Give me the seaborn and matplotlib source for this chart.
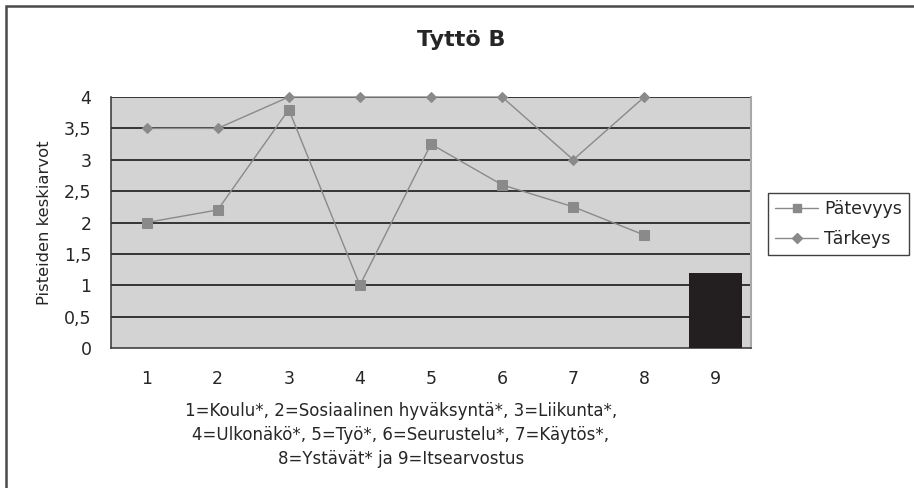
import numpy as np
import pandas as pd
import seaborn as sns
import matplotlib
matplotlib.use("Agg")
import matplotlib.pyplot as plt
from matplotlib.patches import Rectangle
from matplotlib.lines import Line2D

# ---- data ----
categories = ["1", "2", "3", "4", "5", "6", "7", "8", "9"]
patevyys = [2.0, 2.2, 3.8, 1.0, 3.25, 2.6, 2.25, 1.8]
tarkeys = [3.5, 3.5, 4.0, 4.0, 4.0, 4.0, 3.0, 4.0]
itsearvostus_cat = ["9"]
itsearvostus = [1.2]
yticks = [0, 0.5, 1, 1.5, 2, 2.5, 3, 3.5, 4]
ytick_labels = ["0", "0,5", "1", "1,5", "2", "2,5", "3", "3,5", "4"]
title = "Tyttö B"
ylabel = "Pisteiden keskiarvot"
caption = ("1=Koulu*, 2=Sosiaalinen hyväksyntä*, 3=Liikunta*,\n"
           "4=Ulkonäkö*, 5=Työ*, 6=Seurustelu*, 7=Käytös*,\n"
           "8=Ystävät* ja 9=Itsearvostus")

sns.set_style("white")
plt.rcParams["font.family"] = ["DejaVu Sans"]

W, H = 914, 488
fig = plt.figure(figsize=(W / 100, H / 100), dpi=100)
ax = fig.add_axes([111 / W, 1 - 348 / H, (751 - 111) / W, (348 - 97) / H])
ax.set_facecolor("#d3d3d3")

# bar for category 9
sns.barplot(x=itsearvostus_cat, y=itsearvostus, order=categories,
            color="#231f20", width=0.75, saturation=1, ax=ax, zorder=3,
            edgecolor="#231f20", linewidth=0)

line_col = "#8a8a8a"
sns.lineplot(x=np.arange(len(patevyys)), y=patevyys, ax=ax, color=line_col, lw=1.0,
             marker="s", markersize=7, markeredgecolor=line_col,
             markerfacecolor=line_col, zorder=4, clip_on=False)
sns.lineplot(x=np.arange(len(tarkeys)), y=tarkeys, ax=ax, color=line_col, lw=1.0,
             marker="D", markersize=5.5, markeredgecolor=line_col,
             markerfacecolor=line_col, zorder=4, clip_on=False)

ax.set_xlim(-0.5, len(categories) - 0.5)
ax.set_ylim(0, 4)
ax.set_yticks(yticks)
ax.set_yticklabels(ytick_labels, fontsize=12.5)
ax.set_xticks(np.arange(len(categories)))
ax.set_xticklabels(categories, fontsize=12.5)
ax.set_xticks(np.arange(len(categories) + 1) - 0.5, minor=True)
ax.tick_params(axis="x", which="major", length=0, pad=16)
ax.tick_params(axis="x", which="minor", length=6, width=1, color="#333333", direction="out")
ax.tick_params(axis="y", which="major", length=6, width=1, color="#333333", direction="out", pad=8)
ax.set_xlabel("")
ax.set_ylabel(ylabel, fontsize=11.8, labelpad=9)

ax.set_axisbelow(True)
ax.grid(False)
for yv in yticks[1:]:
    ax.axhline(yv, color="#1a1a1a", lw=1.2, zorder=1)

for side in ["left", "bottom"]:
    ax.spines[side].set_color("#333333")
    ax.spines[side].set_linewidth(1.1)
ax.spines["right"].set_color("#a8a8a8")
ax.spines["right"].set_linewidth(1.5)
ax.spines["top"].set_visible(False)

fig.text(461 / W, 1 - 40 / H, title, ha="center", va="center",
         fontsize=16, fontweight="bold")
fig.text(401 / W, 1 - 435 / H, caption, ha="center", va="center",
         fontsize=12, linespacing=1.4)

handles = [
    Line2D([], [], color=line_col, lw=1.0, marker="s", markersize=6,
           markerfacecolor=line_col, markeredgecolor=line_col),
    Line2D([], [], color=line_col, lw=1.0, marker="D", markersize=5,
           markerfacecolor=line_col, markeredgecolor=line_col),
]
leg = fig.legend(handles, ["Pätevyys", "Tärkeys"], loc="upper left",
                 bbox_to_anchor=(768 / W, 1 - 193 / H), borderaxespad=0,
                 frameon=True, fancybox=False, fontsize=12.5,
                 handlelength=2.5, handletextpad=0.35, labelspacing=0.7,
                 borderpad=0.4)
leg.get_frame().set_edgecolor("#111111")
leg.get_frame().set_linewidth(1.0)

fig.patches.append(Rectangle((6 / W, -0.5), 2.0, 0.5 + (1 - 6 / H),
                             transform=fig.transFigure, fill=False,
                             edgecolor="#4a4a4a", lw=1.8, zorder=10))

fig.savefig("out.png", dpi=100)
